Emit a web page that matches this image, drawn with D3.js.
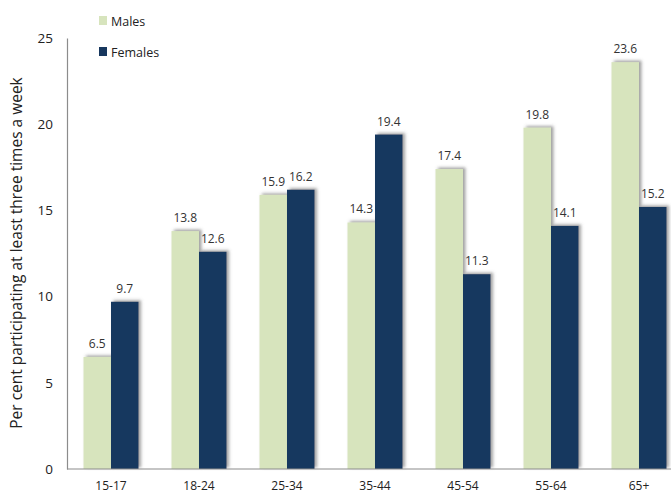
<!DOCTYPE html>
<html><head><meta charset="utf-8">
<script src="https://cdn.jsdelivr.net/npm/d3@7"></script>
<style>
html,body{margin:0;padding:0;background:#fff;}
svg{display:block;font-family:"Open Sans","Liberation Sans",sans-serif;}
</style></head>
<body><svg id="chart" width="671" height="495"></svg>
<script>
const categories = ["15-17","18-24","25-34","35-44","45-54","55-64","65+"];
const males = [6.5, 13.8, 15.9, 14.3, 17.4, 19.8, 23.6];
const females = [9.7, 12.6, 16.2, 19.4, 11.3, 14.1, 15.2];
const seriesNames = ["Males","Females"];
const yTicks = [0,5,10,15,20,25];
const colors = {Males:"#d7e4bd", Females:"#17375e"};

const svg = d3.select("#chart");
const defs = svg.append("defs");
const f = defs.append("filter").attr("id","sh").attr("x","-30%").attr("y","-30%").attr("width","160%").attr("height","160%");
f.append("feDropShadow").attr("dx",2.5).attr("dy",-1.5).attr("stdDeviation",1.4).attr("flood-color","#555").attr("flood-opacity",0.55);

const x0 = d3.scaleBand().domain(categories).range([67, 683]).paddingInner(0.375).paddingOuter(0.1875);
const x1 = d3.scaleBand().domain(seriesNames).range([0, x0.bandwidth()]);
const y = d3.scaleLinear().domain([0,25]).range([469,38]);

const data = categories.map((c,i)=>({cat:c, vals:[{s:"Males",v:males[i]},{s:"Females",v:females[i]}]}));

// bars
const g = svg.append("g");
data.forEach(d=>{
  d.vals.forEach(e=>{
    g.append("rect")
      .attr("x", x0(d.cat)+x1(e.s))
      .attr("y", y(e.v))
      .attr("width", x1.bandwidth())
      .attr("height", y(0)-y(e.v))
      .attr("fill", colors[e.s])
      .attr("filter","url(#sh)");
  });
});
// value labels
data.forEach(d=>{
  d.vals.forEach(e=>{
    svg.append("text")
      .attr("x", x0(d.cat)+x1(e.s)+x1.bandwidth()/2)
      .attr("y", y(e.v)-9)
      .attr("text-anchor","middle")
      .attr("font-size",12)
      .attr("fill","#333")
      .text(e.v.toFixed(1));
  });
});

// axes
const yAxis = d3.axisLeft(y).tickValues(yTicks).tickSize(0).tickPadding(14);
const ya = svg.append("g").attr("transform","translate(67,0)").call(yAxis);
ya.select(".domain").attr("stroke","#8c8c8c").attr("stroke-width",1.2);
ya.selectAll("text").attr("font-size",13.5).attr("fill","#222").attr("font-family","Open Sans, sans-serif");

const xAxis = d3.axisBottom(x0).tickSize(0).tickPadding(12);
const xa = svg.append("g").attr("transform","translate(0,469)").call(xAxis);
xa.select(".domain").attr("stroke","#8c8c8c").attr("stroke-width",1.2).attr("d","M67,0H671");
xa.selectAll("text").attr("font-size",12).attr("fill","#222").attr("font-family","Open Sans, sans-serif");

// y title
svg.append("text")
  .attr("transform","translate(22,253) rotate(-90)")
  .attr("text-anchor","middle")
  .attr("font-size",15.5)
  .attr("fill","#222")
  .text("Per cent participating at least three times a week");

// legend
const leg = svg.append("g");
seriesNames.forEach((s,i)=>{
  const ly = 21 + i*31;
  leg.append("rect").attr("x",99).attr("y",ly-5).attr("width",8).attr("height",9).attr("fill",colors[s]);
  leg.append("text").attr("x",111).attr("y",ly+4.5).attr("font-size",12.5).attr("fill","#222").text(s);
});
</script></body></html>
